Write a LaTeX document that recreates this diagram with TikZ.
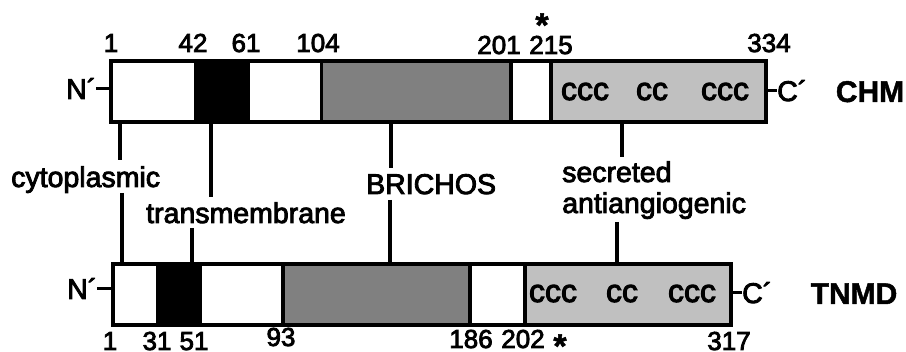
\documentclass[tikz,border=0pt]{standalone}
\usepackage{fontspec}
\setmainfont{Liberation Sans}
\newfontfamily\labfont[FakeBold=3]{Liberation Sans}
\newfontfamily\namefont[BoldFeatures={FakeBold=1.5}]{Liberation Sans}
\definecolor{brichos}{HTML}{808080}
\definecolor{secreted}{HTML}{C0C0C0}
\begin{document}
\begin{tikzpicture}[x=1pt,y=-1pt,
  seg/.style={draw,line width=3.5pt,inner sep=0pt,outer sep=0pt,minimum height=61,fill=white},
  link/.style={line width=3.5pt},
  lab/.style={inner sep=0pt,anchor=base west,font=\labfont\fontsize{28.5}{28.5}\selectfont},
  num/.style={inner sep=0pt,anchor=base,font=\labfont\fontsize{26}{26}\selectfont},
  cys/.style={inner sep=0pt,anchor=base,font=\labfont\fontsize{32}{32}\selectfont},
  prot/.style={inner sep=0pt,anchor=base,font=\namefont\bfseries\fontsize{30}{30}\selectfont},
  star/.style={inner sep=0pt,font=\namefont\bfseries\fontsize{34}{34}\selectfont}]
\useasboundingbox[fill=white] (0,0) rectangle (906,352);

% CHM domains
\node[seg,minimum width=85]                 (c1) at (153.5,91.5) {};
\node[seg,minimum width=52,fill=black]      (c2) at (222,91.5) {};
\node[seg,minimum width=73.5]               (c3) at (284.75,91.5) {};
\node[seg,minimum width=189.5,fill=brichos] (c4) at (416.25,91.5) {};
\node[seg,minimum width=40]                 (c5) at (531,91.5) {};
\node[seg,minimum width=215,fill=secreted]  (c6) at (658.5,91.5) {};

% TNMD domains
\node[seg,minimum width=44.5]               (t1) at (135.25,294.75) {};
\node[seg,minimum width=42.5,fill=black]    (t2) at (178.75,294.75) {};
\node[seg,minimum width=83]                 (t3) at (241.5,294.75) {};
\node[seg,minimum width=187,fill=brichos]   (t4) at (376.5,294.75) {};
\node[seg,minimum width=55]                 (t5) at (497.5,294.75) {};
\node[seg,minimum width=206,fill=secreted]  (t6) at (628,294.75) {};

% cysteine clusters
\node[cys] (cc1) at (585,100) {ccc};
\node[cys] (cc2) at (652,100) {cc};
\node[cys] (cc3) at (725,100) {ccc};
\node[cys] (tc1) at (553,302) {ccc};
\node[cys] (tc2) at (622,302) {cc};
\node[cys] (tc3) at (692,302) {ccc};

% termini
\node[lab] (nchm) at (66,99) {N´};
\node[lab] (ntn)  at (67,299) {N´};
\node[lab] (cchm) at (777,101) {C´};
\node[lab] (ctn)  at (742,303) {C´};
\draw[link] (nchm.east) -- (nchm.east -| c1.west);
\draw[link] (ntn.east) -- (ntn.east -| t1.west);
\draw[link] (cchm.west -| c6.east) -- (cchm.west);
\draw[link] (ctn.west -| t6.east) -- (ctn.west);

% protein names
\node[prot] (chm)  at (870,102) {CHM};
\node[prot] (tnmd) at (854,304) {TNMD};

% residue numbers, CHM
\node[num] (a1)   at (111,52) {1};
\node[num] (a42)  at (193,52) {42};
\node[num] (a61)  at (246,52) {61};
\node[num] (a104) at (318,52) {104};
\node[num] (a201) at (499,54) {201};
\node[num] (a215) at (551,54) {215};
\node[num] (a334) at (769,52) {334};
\node[star] (astar) at (542,25) {*};

% residue numbers, TNMD
\node[num] (b1)   at (110,350) {1};
\node[num] (b31)  at (157,350) {31};
\node[num] (b51)  at (194,350) {51};
\node[num] (b93)  at (281,346) {93};
\node[num] (b186) at (471,348) {186};
\node[num] (b202) at (523,348) {202};
\node[star] (bstar) at (560,346) {*};
\node[num] (b317) at (729,350) {317};

% domain labels
\node[lab] (cyto)  at (11,187)  {cytoplasmic};
\node[lab] (trans) at (146,223) {transmembrane};
\node[lab] (bri)   at (366,194) {BRICHOS};
\node[lab] (sec)   at (562,182) {secreted};
\node[lab] (anti)  at (562,213) {antiangiogenic};

% connector ends next to the labels
\coordinate (cytoA)  at (120,160);
\coordinate (cytoB)  at (122,193);
\coordinate (transA) at (211,197);
\coordinate (transB) at (192,228);
\coordinate (briA)   at (391,168);
\coordinate (briB)   at (390,200);
\coordinate (secA)   at (622,157);
\coordinate (secB)   at (617,222);

\draw[link] (c1.south -| cytoA) -- (cytoA);
\draw[link] (cytoB) -- (t1.north -| cytoB);
\draw[link] (c2.south -| transA) -- (transA);
\draw[link] (transB) -- (t2.north -| transB);
\draw[link] (c4.south -| briA) -- (briA);
\draw[link] (briB) -- (t4.north -| briB);
\draw[link] (c6.south -| secA) -- (secA);
\draw[link] (secB) -- (t6.north -| secB);
\end{tikzpicture}
\end{document}
